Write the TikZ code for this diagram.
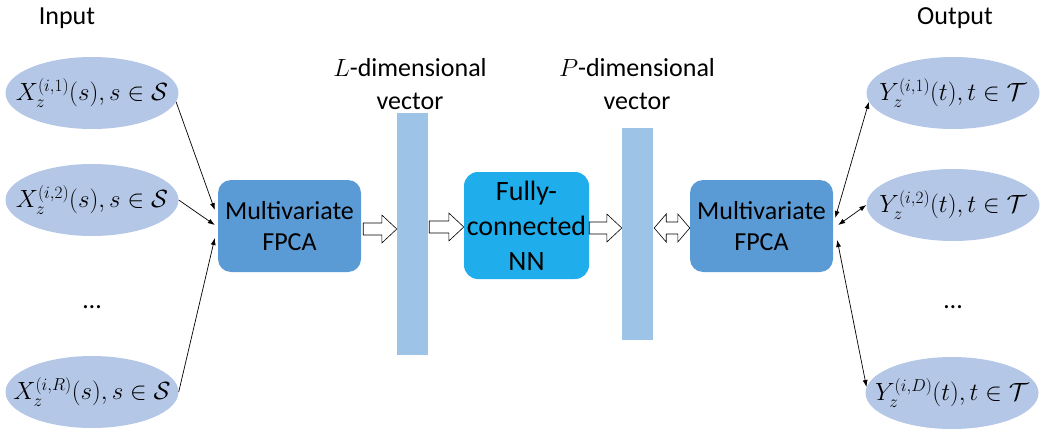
\documentclass[tikz,border=0pt]{standalone}
\usepackage{fontspec}
\setmainfont{Carlito}
\usetikzlibrary{calc,shapes.geometric,arrows.meta}
\definecolor{ellfill}{HTML}{B4C7E7}
\definecolor{fpcafill}{HTML}{5B9BD5}
\definecolor{nnfill}{HTML}{1FAEEB}
\definecolor{barfill}{HTML}{9DC3E6}
\newcommand{\fatarrow}[2]{\draw[fat] let \p1=(#1), \p2=(#2) in
  (\x1,\y1+6pt) -- (\x2-15pt,\y1+6pt) -- (\x2-15pt,\y1+14pt) -- (\x2,\y1)
  -- (\x2-15pt,\y1-14pt) -- (\x2-15pt,\y1-6pt) -- (\x1,\y1-6pt) -- cycle;}
\newcommand{\fatdouble}[2]{\draw[fat] let \p1=(#1), \p2=(#2) in
  (\x1,\y1) -- (\x1+12pt,\y1+14pt) -- (\x1+12pt,\y1+6pt) -- (\x2-12pt,\y1+6pt)
  -- (\x2-12pt,\y1+14pt) -- (\x2,\y1) -- (\x2-12pt,\y1-14pt) -- (\x2-12pt,\y1-6pt)
  -- (\x1+12pt,\y1-6pt) -- (\x1+12pt,\y1-14pt) -- cycle;}
\begin{document}
\begin{tikzpicture}[x=1pt,y=-1pt,
  ell/.style={ellipse,fill=ellfill,draw=none,minimum width=173pt,minimum height=72pt,inner sep=0pt},
  mtxt/.style={inner sep=0pt,font=\fontsize{25}{30}\selectfont},
  txt/.style={inner sep=0pt,align=center,font=\fontsize{26}{33}\selectfont},
  fpca/.style={rounded corners=13pt,fill=fpcafill,minimum width=143pt,minimum height=92pt,inner sep=0pt,align=center,font=\fontsize{26}{31}\selectfont},
  nnbox/.style={rounded corners=14pt,fill=nnfill,minimum width=125pt,minimum height=107pt,inner sep=0pt,align=center,font=\fontsize{28}{35}\selectfont},
  vbar/.style={fill=barfill,minimum width=31pt,inner sep=0pt},
  fat/.style={draw=black,fill=white,line width=0.6pt,line join=miter},
  thin/.style={draw=black,line width=0.7pt,-{Latex[length=7pt,width=5pt]}},
  thinboth/.style={draw=black,line width=0.7pt,{Latex[length=7pt,width=5pt]}-{Latex[length=7pt,width=5pt]}}]
\useasboundingbox (0,0) rectangle (1043,436);

% headers
\node[txt] (inp) at (67,18) {Input};
\node[txt] (outp) at (955,18) {Output};
\node[txt] (lvec) at (410,84) {$L$-dimensional\\vector};
\node[txt] (pvec) at (637,84) {$P$-dimensional\\vector};

% input ellipses
\node[ell] (e1) at (92,93) {};
\node[ell] (e2) at (92,200) {};
\node[ell] (e3) at (92,392) {};
\node[mtxt] (te1) at (e1.center) {$X_z^{(i,1)}(s), s\in\mathcal{S}$};
\node[mtxt] (te2) at (e2.center) {$X_z^{(i,2)}(s), s\in\mathcal{S}$};
\node[mtxt] (te3) at (e3.center) {$X_z^{(i,R)}(s), s\in\mathcal{S}$};
\node[txt] (ldots) at (92,307) {…};

% output ellipses
\node[ell] (r1) at (953,93) {};
\node[ell] (r2) at (953,205) {};
\node[ell] (r3) at (952,393) {};
\node[mtxt] (tr1) at (r1.center) {$Y_z^{(i,1)}(t), t\in\mathcal{T}$};
\node[mtxt] (tr2) at (r2.center) {$Y_z^{(i,2)}(t), t\in\mathcal{T}$};
\node[mtxt] (tr3) at (r3.center) {$Y_z^{(i,D)}(t), t\in\mathcal{T}$};
\node[txt] (rdots) at (953,307) {…};

% main blocks
\node[fpca] (f1) at (289.5,226) {Multivariate\\FPCA};
\node[vbar,minimum height=242pt] (vL) at (412.5,234) {};
\node[nnbox] (nn) at (526.5,225.5) {Fully-\\connected\\NN};
\node[vbar,minimum height=212pt] (vP) at (637.5,234) {};
\node[fpca] (f2) at (761.5,226) {Multivariate\\FPCA};

% thin arrows in
\coordinate (a1) at ($(f1.west)+(-3,-16)$);
\coordinate (a2) at ($(f1.west)+(-3,-1)$);
\coordinate (a3) at ($(f1.west)+(-3,12)$);
\draw[thin] (e1.-6) -- (a1);
\draw[thin] (e2.east) -- (a2);
\draw[thin] (e3.east) -- (a3);

% thin arrows out
\coordinate (c1) at ($(f2.east)+(2,-8)$);
\coordinate (c2) at ($(f2.east)+(5,-1)$);
\coordinate (c3) at ($(f2.east)+(4,14)$);
\draw[thinboth] (c1) -- (r1.186);
\draw[thinboth] (c2) -- (r2.west);
\draw[thinboth] (c3) -- (r3.176);

% fat arrows
\coordinate (b1s) at ($(f1.east)+(2,3)$);
\coordinate (b1e) at ($(vL.west)+(0,-5)$);
\coordinate (b2s) at ($(vL.east)+(1,-7)$);
\coordinate (b2e) at ($(nn.west)+(0,1.5)$);
\coordinate (b3s) at ($(nn.east)+(0,2.5)$);
\coordinate (b3e) at ($(vP.west)+(0,-6)$);
\coordinate (b4s) at ($(vP.east)+(1,-6)$);
\coordinate (b4e) at ($(f2.west)+(0,2)$);
\fatarrow{b1s}{b1e}
\fatarrow{b2s}{b2e}
\fatarrow{b3s}{b3e}
\fatdouble{b4s}{b4e}
\end{tikzpicture}
\end{document}
